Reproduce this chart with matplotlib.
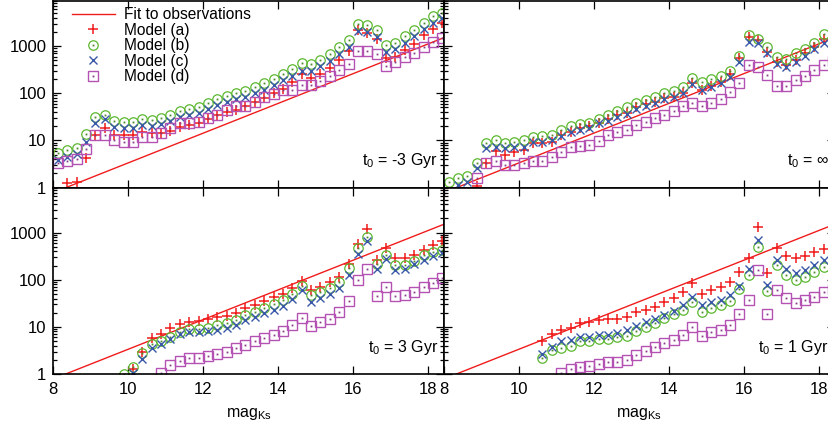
import numpy as np
import matplotlib
matplotlib.use("Agg")
import matplotlib.pyplot as plt
from matplotlib.ticker import FixedLocator, NullFormatter

plt.rcParams["font.family"] = ["Liberation Sans", "DejaVu Sans"]
plt.rcParams["mathtext.fontset"] = "custom"
plt.rcParams["mathtext.rm"] = "Liberation Sans"
plt.rcParams["mathtext.it"] = "Liberation Sans"

nan = np.nan

# ── data ─────────────────────────────────────────────────────────────────────

mag = [8.125, 8.375, 8.625, 8.875, 9.125, 9.375, 9.625, 9.875,
       10.125, 10.375, 10.625, 10.875, 11.125, 11.375, 11.625, 11.875,
       12.125, 12.375, 12.625, 12.875, 13.125, 13.375, 13.625, 13.875,
       14.125, 14.375, 14.625, 14.875, 15.125, 15.375, 15.625, 15.875,
       16.125, 16.375, 16.625, 16.875, 17.125, 17.375, 17.625, 17.875,
       18.125, 18.375]

# fit to observations (straight line in log space)
fit_mag = [8.0, 18.5]
fit_n = [0.787, 1600.0]

# t0 = -3 Gyr
neg3_a = [nan, 1.28, 1.34, 4.2, 13, 18.6, 13, 13, 13, 15.4, 14.6, 14.6, 16, 19.6,
          21, 24, 29, 34.5, 41, 44, 53, 66, 81, 100, 126, 175, 256, 206, 256, 335,
          505, 800, 2180, 1850, 1380, 550, 575, 820, 1090, 1730, 2270, 3030]
neg3_b = [5.5, 6.3, 7.0, 13.5, 32, 35, 26, 24.5, 24.5, 28.5, 27.5, 29.4, 34, 42,
          46, 52, 63, 75, 87, 100, 113, 138, 162, 200, 256, 320, 430, 410, 500, 665,
          935, 1340, 2940, 2800, 2190, 1050, 1170, 1630, 2190, 3150, 4350, 5100]
neg3_c = [3.9, 4.5, 5.2, 9.4, 24, 28, 19, 18, 18.6, 21, 20, 22.3, 26, 31,
          34.5, 39, 47, 56, 66, 76, 85, 102, 120, 149, 190, 235, 300, 290, 380, 480,
          680, 970, 2100, 2000, 1580, 760, 850, 1140, 1630, 2270, 3150, 3870]
neg3_d = [3.3, 3.7, 4.0, 6.5, 13, 13, 10.2, 9.4, 9.4, 11.7, 11.7, 14.1, 18, 23,
          23, 25, 29.4, 34.5, 44, 53, 53, 64, 85, 96, 117, 120, 150, 150, 185, 230,
          310, 425, 800, 800, 675, 370, 470, 575, 700, 975, 1235, 1510]

# t0 = infinity
inf_a = [nan, nan, nan, 1.1, 3.4, 6.1, 4.9, 5.8, 6.3, 8.7, 9, 9.4, 13, 15.3,
         18, 20, 23, 28, 34.5, 39, 50, 59, 66, 78, 85, 102, 167, 117, 141, 175,
         256, 550, 1580, 1340, 760, 465, 400, 505, 700, 970, 1380, 1800]
inf_b = [1.34, 1.58, 1.8, 3.4, 8.9, 10.2, 8.7, 9.1, 10, 12, 12.4, 13, 16.6, 20,
         22.3, 24, 29, 34.5, 42, 50, 61, 72, 85, 100, 113, 133, 206, 175, 196, 230,
         300, 610, 1700, 1440, 970, 575, 525, 700, 850, 1140, 1780, 2300]
inf_c = [nan, 1.14, 1.34, 2.6, 6.8, 7.4, 6.8, 7.4, 7.4, 9.4, 9.4, 10, 12.4, 15.3,
         17, 18, 23, 26, 32, 37, 45.5, 53.5, 63, 74, 85, 100, 157, 117, 133, 167,
         224, 465, 1230, 1140, 700, 415, 365, 465, 610, 850, 1170, 1500]
inf_d = [nan, nan, nan, 1.63, 3.3, 3.7, 3.0, 3.0, 3.3, 3.7, 3.7, 4.5, 5.8, 7.4,
         7.6, 8.0, 9.9, 13, 15.3, 16.6, 21, 25, 29.4, 34.5, 42, 53.5, 63, 53.5, 61, 74,
         108, 162, 395, 365, 243, 142, 142, 190, 230, 310, 395, 480]

# t0 = 3 Gyr
p3_a = [nan, nan, nan, nan, nan, nan, nan, nan, 1.3, 2.9, 5.7, 6.9, 9.3, 11.3,
        12.9, 13.3, 14.7, 16.5, 17.3, 19.4, 24.7, 29, 35.5, 44, 49, 66, 94, 61, 71, 88,
        116, 213, 565, 1200, 264, 480, 294, 290, 340, 435, 540, 675]
p3_b = [nan, nan, nan, nan, nan, nan, nan, 1.0, 1.43, 2.75, 4.3, 4.9, 6.2, 7.9,
        9.0, 9.0, 9.6, 11, 12.3, 14, 17.8, 21, 24.7, 30, 37, 51, 75, 47.5, 54, 66,
        88, 175, 480, 790, 213, 335, 204, 204, 255, 340, 390, 435]
p3_c = [nan, nan, nan, nan, nan, nan, nan, nan, 1.03, 2.1, 3.6, 4.3, 5.5, 6.9,
        7.7, 7.7, 8.2, 8.6, 9.6, 11, 14, 16.5, 19.4, 22.8, 28, 39, 61, 34.5, 40.5, 49,
        68, 126, 347, 665, 170, 275, 162, 170, 218, 268, 315, 370]
p3_d = [nan, nan, nan, nan, nan, nan, nan, nan, nan, nan, nan, 1.03, 1.55, 1.9,
        2.15, 2.15, 2.4, 2.7, 3.0, 3.5, 4.1, 5.0, 5.7, 6.7, 8.2, 11, 15.7, 10.6, 12.9, 14.7,
        20.4, 36, 100, 172, 46, 69, 45, 47, 55, 69, 85, 109]

# t0 = 1 Gyr
p1_a = [nan, nan, nan, nan, nan, nan, nan, nan, nan, nan, 5.0, 6.9, 8.6, 9.6,
        11.9, 12.5, 14, 14.7, 14.7, 16.5, 21, 22.8, 26.9, 33, 41.7, 56, 84, 51, 61, 71,
        91, 144, 294, 1340, 137, 480, 325, 294, 325, 380, 450, 530]
p1_b = [nan, nan, nan, nan, nan, nan, nan, nan, nan, nan, 2.15, 3.2, 3.6, 4.0,
        4.9, 4.9, 5.4, 5.4, 6.2, 6.5, 8.2, 10, 11.9, 15.2, 18.5, 22.8, 34.5, 21, 24.7, 29,
        35.5, 63, 126, 505, 58, 205, 126, 99, 116, 144, 190, 240]
p1_c = [nan, nan, nan, nan, nan, nan, nan, nan, nan, nan, 2.6, 3.8, 4.9, 5.3,
        6.2, 6.2, 6.7, 6.7, 7.3, 8.6, 10.6, 12.5, 14.7, 17.8, 21.7, 29, 44, 29, 34.5, 37,
        47.5, 75, 170, 700, 77, 264, 170, 137, 162, 205, 264, 310]
p1_d = [nan, nan, nan, nan, nan, nan, nan, nan, nan, nan, nan, nan, 1.03, 1.28,
        1.43, 1.5, 1.6, 1.77, 1.77, 2.0, 2.5, 3.1, 3.8, 4.5, 5.3, 6.7, 10, 6.5, 7.7, 8.6,
        11, 18.5, 37, 162, 18.5, 61, 40.5, 31.6, 37, 44, 54, 65]

panels = [
    ("t$_0$ = -3 Gyr", (neg3_a, neg3_b, neg3_c, neg3_d)),
    ("t$_0$ = \u221e", (inf_a, inf_b, inf_c, inf_d)),
    ("t$_0$ = 3 Gyr", (p3_a, p3_b, p3_c, p3_d)),
    ("t$_0$ = 1 Gyr", (p1_a, p1_b, p1_c, p1_d)),
]

RED = "#f01c1c"
GREEN = "#5cb830"
BLUE = "#3a58a8"
PURPLE = "#b452b4"

# ── layout (pixel geometry of the original, right column runs off the edge) ──

W, H = 829, 428
fig = plt.figure(figsize=(W / 100, H / 100), dpi=100)

x0_l, x0_r, pw = 53.3, 444.0, 390.7
y_top, y_mid, y_bot = 1.0, 187.7, 374.0
boxes = [
    (x0_l, y_top, y_mid), (x0_r, y_top, y_mid),
    (x0_l, y_mid, y_bot), (x0_r, y_mid, y_bot),
]

for i, ((label, (sa, sb, sc, sd)), (px, py0, py1)) in enumerate(zip(panels, boxes)):
    ax = fig.add_axes([px / W, 1 - py1 / H, pw / W, (py1 - py0) / H])
    ax.set_yscale("log")
    ax.set_xlim(8, 18.42)
    ax.set_ylim(1, 9000)

    fit, = ax.plot(fit_mag, fit_n, color=RED, lw=1.0)
    ha, = ax.plot(mag, sa, ls="none", marker="+", ms=7.2, mew=1.1, color=RED)
    hb, = ax.plot(mag, sb, ls="none", marker="o", ms=6.8, mew=0.9,
                  mfc="none", color=GREEN)
    hbd, = ax.plot(mag, sb, ls="none", marker="s", ms=1.3, mew=0, color="#4a8a2a")
    hc, = ax.plot(mag, sc, ls="none", marker="x", ms=6.3, mew=1.0, color=BLUE)
    hd, = ax.plot(mag, sd, ls="none", marker="s", ms=7.0, mew=1.0,
                  mfc="none", color=PURPLE)
    hdd, = ax.plot(mag, sd, ls="none", marker="s", ms=1.3, mew=0, color="#8a3a8a")

    ax.xaxis.set_major_locator(FixedLocator([8, 10, 12, 14, 16, 18]))
    ax.yaxis.set_major_locator(FixedLocator([1, 10, 100, 1000]))
    ax.yaxis.set_minor_locator(FixedLocator(
        [m * 10 ** e for e in range(0, 4) for m in range(2, 10)]))
    ax.xaxis.set_minor_formatter(NullFormatter())
    ax.yaxis.set_minor_formatter(NullFormatter())
    ax.tick_params(which="both", direction="in", top=True, right=True,
                   labelsize=12, width=0.9)
    ax.tick_params(which="major", length=6)
    ax.tick_params(which="minor", length=3)
    ax.tick_params(axis="x", pad=6)
    ax.tick_params(axis="y", pad=5)

    if px == x0_l:
        ax.set_yticklabels(["1", "10", "100", "1000"])
    else:
        ax.set_yticklabels([])
    if py0 == y_mid:
        ax.set_xticklabels(["8", "10", "12", "14", "16", "18"])
        ax.set_xlabel("mag$_{\\rm Ks}$", fontsize=11.5, labelpad=6)
    else:
        ax.set_xticklabels([])

    for s in ax.spines.values():
        s.set_linewidth(1.2)

    ax.text(0.985, 0.12, label, transform=ax.transAxes, ha="right",
            va="baseline", fontsize=11.5)

    if i == 0:
        ax.legend([fit, ha, (hb, hbd), hc, (hd, hdd)],
                  ["Fit to observations", "Model (a)", "Model (b)",
                   "Model (c)", "Model (d)"],
                  loc="upper left", bbox_to_anchor=(0.048, 0.968),
                  frameon=False, fontsize=11.2, borderpad=0, borderaxespad=0,
                  handlelength=2.75, handletextpad=0.6, labelspacing=0.04,
                  numpoints=1)

fig.savefig("out.png", dpi=100)
